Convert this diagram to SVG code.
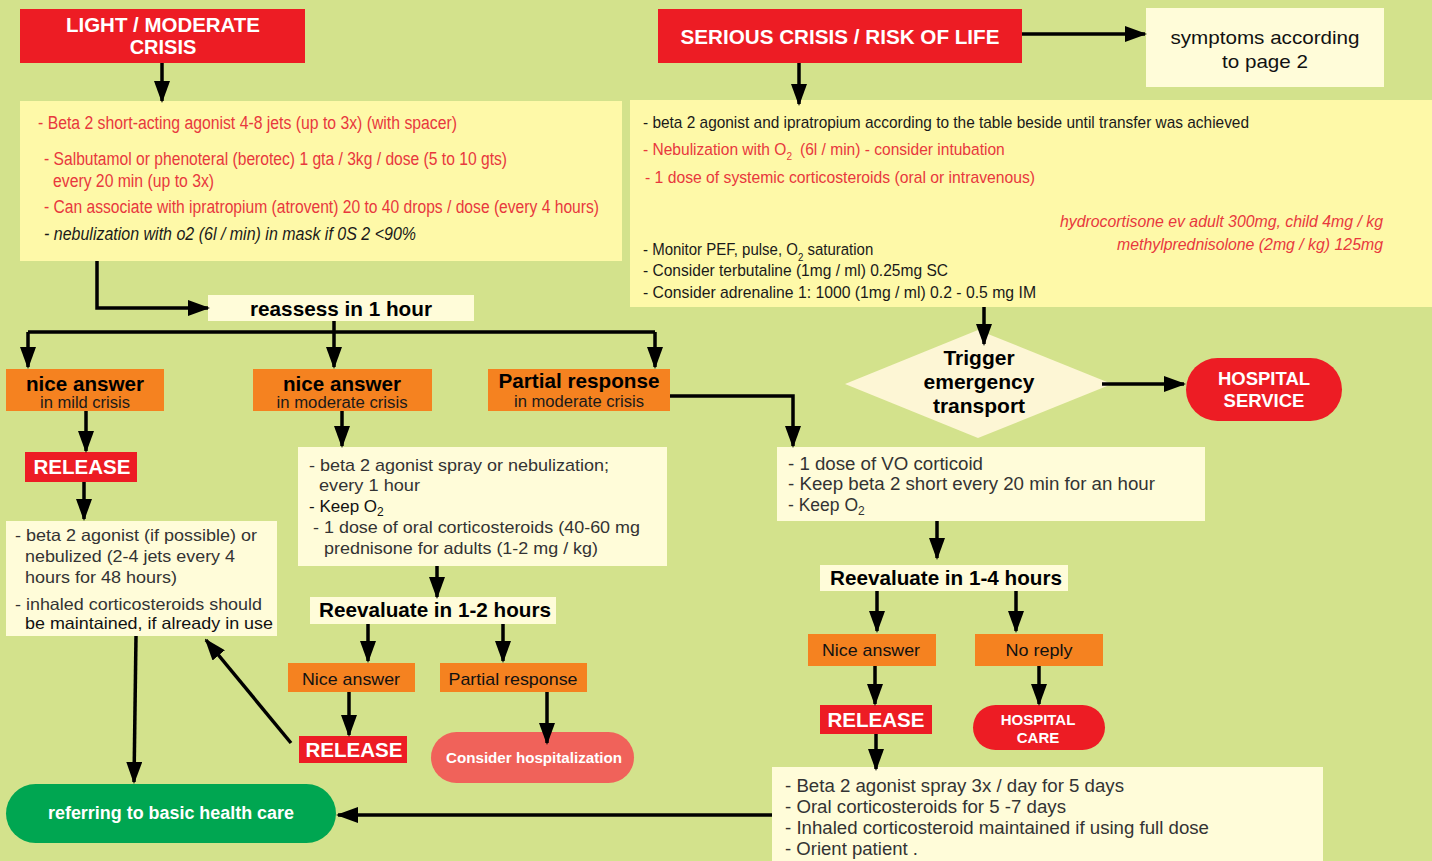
<svg xmlns="http://www.w3.org/2000/svg" width="1432" height="861" viewBox="0 0 1432 861">
<defs>
<marker id="ah" markerUnits="userSpaceOnUse" markerWidth="22" markerHeight="16" refX="20" refY="8" orient="auto">
<path d="M0,0 L22,8 L0,16 z" fill="#000"/>
</marker>
<style>
text{font-family:"Liberation Sans",Arial,sans-serif}
.bg{fill:#d3e28c}
.red{fill:#ed1c24}
.org{fill:#f58220}
.ylw{fill:#fef9a8}
.crm{fill:#fffcd9}
.wb{fill:#fff;font-weight:bold}
.bk{fill:#000;font-weight:bold}
.tx{fill:#333}
.rt{fill:#e8383d}
.dk{fill:#1a1a1a}
.c{text-anchor:middle}
.cn path{fill:none;stroke:#000;stroke-width:3.5}
.ar{marker-end:url(#ah)}
</style>
</defs>
<rect class="bg" x="0" y="0" width="1432" height="861"/>

<g id="light-crisis">
<rect class="red" x="20" y="9" width="285" height="54"/>
<text class="wb c" x="163" y="32" font-size="20" textLength="194" lengthAdjust="spacingAndGlyphs">LIGHT / MODERATE</text>
<text class="wb c" x="163" y="54" font-size="20">CRISIS</text>
</g>

<g id="light-treatment">
<rect class="ylw" x="20" y="101" width="602" height="160"/>
<text class="rt" x="38" y="129" font-size="18" textLength="419" lengthAdjust="spacingAndGlyphs">- Beta 2 short-acting agonist 4-8 jets (up to 3x) (with spacer)</text>
<text class="rt" x="44" y="165" font-size="18" textLength="463" lengthAdjust="spacingAndGlyphs">- Salbutamol or phenoteral (berotec) 1 gta / 3kg / dose (5 to 10 gts)</text>
<text class="rt" x="53" y="187" font-size="18" textLength="161" lengthAdjust="spacingAndGlyphs">every 20 min (up to 3x)</text>
<text class="rt" x="44" y="213" font-size="18" textLength="555" lengthAdjust="spacingAndGlyphs">- Can associate with ipratropium (atrovent) 20 to 40 drops / dose (every 4 hours)</text>
<text class="dk" x="44" y="240" font-size="18" font-style="italic" textLength="372" lengthAdjust="spacingAndGlyphs">- nebulization with o2 (6l / min) in mask if 0S 2 &lt;90%</text>
</g>

<g id="reassess">
<rect class="crm" x="208" y="295" width="266" height="26"/>
<text class="bk c" x="341" y="316" font-size="20.5" textLength="182" lengthAdjust="spacingAndGlyphs">reassess in 1 hour</text>
</g>

<g id="nice-mild">
<rect class="org" x="6" y="369" width="158" height="42"/>
<text class="bk c" x="85" y="391" font-size="20.5" textLength="118" lengthAdjust="spacingAndGlyphs">nice answer</text>
<text class="c" x="85" y="408" font-size="16" fill="#1a1a1a" textLength="90" lengthAdjust="spacingAndGlyphs">in mild crisis</text>
</g>

<g id="nice-moderate">
<rect class="org" x="253" y="369" width="179" height="42"/>
<text class="bk c" x="342" y="391" font-size="20.5" textLength="118" lengthAdjust="spacingAndGlyphs">nice answer</text>
<text class="c" x="342" y="408" font-size="16" fill="#1a1a1a" textLength="131" lengthAdjust="spacingAndGlyphs">in moderate crisis</text>
</g>

<g id="partial-moderate">
<rect class="org" x="488" y="369" width="182" height="42"/>
<text class="bk c" x="579" y="388" font-size="20.5" textLength="161" lengthAdjust="spacingAndGlyphs">Partial response</text>
<text class="c" x="579" y="407" font-size="16" fill="#1a1a1a" textLength="130" lengthAdjust="spacingAndGlyphs">in moderate crisis</text>
</g>

<g id="release-1">
<rect class="red" x="25" y="452" width="112" height="30"/>
<text class="wb c" x="82" y="474" font-size="20.5" textLength="97" lengthAdjust="spacingAndGlyphs">RELEASE</text>
</g>

<g id="mild-advice">
<rect class="crm" x="6" y="521" width="271" height="115"/>
<text class="tx" x="15" y="541" font-size="16.5" textLength="242" lengthAdjust="spacingAndGlyphs">- beta 2 agonist (if possible) or</text>
<text class="tx" x="25" y="562" font-size="16.5" textLength="210" lengthAdjust="spacingAndGlyphs">nebulized (2-4 jets every 4</text>
<text class="tx" x="25" y="583" font-size="16.5" textLength="152" lengthAdjust="spacingAndGlyphs">hours for 48 hours)</text>
<text class="tx" x="15" y="610" font-size="16.5" textLength="247" lengthAdjust="spacingAndGlyphs">- inhaled corticosteroids should</text>
<text x="25" y="629" font-size="16.5" fill="#111" textLength="248" lengthAdjust="spacingAndGlyphs">be maintained, if already in use</text>
</g>

<g id="moderate-treatment">
<rect class="crm" x="298" y="447" width="369" height="119"/>
<text class="tx" x="309" y="471" font-size="17" textLength="300" lengthAdjust="spacingAndGlyphs">- beta 2 agonist spray or nebulization;</text>
<text class="tx" x="319" y="491" font-size="17" textLength="101" lengthAdjust="spacingAndGlyphs">every 1 hour</text>
<text x="309" y="512" font-size="17" fill="#111">- Keep O<tspan font-size="12" dy="4">2</tspan></text>
<text class="tx" x="313" y="533" font-size="17" textLength="327" lengthAdjust="spacingAndGlyphs">- 1 dose of oral corticosteroids (40-60 mg</text>
<text class="tx" x="324" y="554" font-size="17" textLength="274" lengthAdjust="spacingAndGlyphs">prednisone for adults (1-2 mg / kg)</text>
</g>

<g id="reevaluate-12">
<rect class="crm" x="310" y="597" width="246" height="27"/>
<text class="bk c" x="435" y="617" font-size="20.5" textLength="232" lengthAdjust="spacingAndGlyphs">Reevaluate in 1-2 hours</text>
</g>

<g id="nice-answer-2">
<rect class="org" x="288" y="663" width="127" height="29"/>
<text class="c" x="351" y="685" font-size="17" fill="#111" textLength="98" lengthAdjust="spacingAndGlyphs">Nice answer</text>
</g>

<g id="partial-2">
<rect class="org" x="440" y="663" width="147" height="29"/>
<text class="c" x="513" y="685" font-size="17" fill="#111" textLength="129" lengthAdjust="spacingAndGlyphs">Partial response</text>
</g>

<g id="release-2">
<rect class="red" x="299" y="736" width="108" height="27"/>
<text class="wb c" x="354" y="757" font-size="20.5" textLength="97" lengthAdjust="spacingAndGlyphs">RELEASE</text>
</g>

<g id="consider-hospitalization">
<rect x="431" y="732" width="203" height="51" rx="25.5" fill="#f0625a"/>
<text class="wb c" x="534" y="763" font-size="15" textLength="176" lengthAdjust="spacingAndGlyphs">Consider hospitalization</text>
</g>

<g id="basic-health-care">
<rect x="6" y="784" width="330" height="59" rx="29.5" fill="#00a651"/>
<text class="wb c" x="171" y="819" font-size="18" textLength="246" lengthAdjust="spacingAndGlyphs">referring to basic health care</text>
</g>

<g id="serious-crisis">
<rect class="red" x="658" y="9" width="364" height="54"/>
<text class="wb c" x="840" y="44" font-size="20" textLength="319" lengthAdjust="spacingAndGlyphs">SERIOUS CRISIS / RISK OF LIFE</text>
</g>

<g id="symptoms">
<rect class="crm" x="1146" y="8" width="238" height="79"/>
<text class="c" x="1265" y="44" font-size="19" fill="#111" textLength="189" lengthAdjust="spacingAndGlyphs">symptoms according</text>
<text class="c" x="1265" y="68" font-size="19" fill="#111" textLength="86" lengthAdjust="spacingAndGlyphs">to page 2</text>
</g>

<g id="serious-treatment">
<rect class="ylw" x="630" y="100" width="802" height="207"/>
<text class="dk" x="643" y="128" font-size="17" textLength="606" lengthAdjust="spacingAndGlyphs">- beta 2 agonist and ipratropium according to the table beside until transfer was achieved</text>
<text class="rt" transform="translate(643,155) scale(0.915,1)" x="0" y="0" font-size="17">- Nebulization with O<tspan font-size="11" dy="5">2</tspan><tspan dy="-5" dx="4"> (6l / min) - consider intubation</tspan></text>
<text class="rt" x="645" y="183" font-size="17" textLength="390" lengthAdjust="spacingAndGlyphs">- 1 dose of systemic corticosteroids (oral or intravenous)</text>
<text class="rt" x="1383" y="227" font-size="17" font-style="italic" text-anchor="end" textLength="323" lengthAdjust="spacingAndGlyphs">hydrocortisone ev adult 300mg, child 4mg / kg</text>
<text class="rt" x="1383" y="250" font-size="17" font-style="italic" text-anchor="end" textLength="266" lengthAdjust="spacingAndGlyphs">methylprednisolone (2mg / kg) 125mg</text>
<text class="dk" transform="translate(643,255) scale(0.882,1)" x="0" y="0" font-size="17">- Monitor PEF, pulse, O<tspan font-size="11" dy="6">2</tspan><tspan dy="-6"> saturation</tspan></text>
<text class="dk" x="643" y="276" font-size="17" textLength="305" lengthAdjust="spacingAndGlyphs">- Consider terbutaline (1mg / ml) 0.25mg SC</text>
<text class="dk" x="643" y="298" font-size="17" textLength="393" lengthAdjust="spacingAndGlyphs">- Consider adrenaline 1: 1000 (1mg / ml) 0.2 - 0.5 mg IM</text>
</g>

<g id="trigger-transport">
<polygon points="978,330 1112,384 978,438 845,384" fill="#fdf6d5"/>
<text class="bk c" x="979" y="365" font-size="21">Trigger</text>
<text class="bk c" x="979" y="389" font-size="21">emergency</text>
<text class="bk c" x="979" y="413" font-size="21">transport</text>
</g>

<g id="hospital-service">
<rect class="red" x="1186" y="358" width="156" height="63" rx="31.5"/>
<text class="wb c" x="1264" y="385" font-size="18.5">HOSPITAL</text>
<text class="wb c" x="1264" y="407" font-size="18.5">SERVICE</text>
</g>

<g id="partial-treatment">
<rect class="crm" x="777" y="447" width="428" height="74"/>
<text class="tx" x="788" y="470" font-size="17.5" textLength="195" lengthAdjust="spacingAndGlyphs">- 1 dose of VO corticoid</text>
<text class="tx" x="788" y="490" font-size="17.5" textLength="367" lengthAdjust="spacingAndGlyphs">- Keep beta 2 short every 20 min for an hour</text>
<text class="tx" x="788" y="511" font-size="17.5">- Keep O<tspan font-size="12" dy="4">2</tspan></text>
</g>

<g id="reevaluate-14">
<rect class="crm" x="820" y="565" width="248" height="26"/>
<text class="bk c" x="946" y="585" font-size="20.5" textLength="232" lengthAdjust="spacingAndGlyphs">Reevaluate in 1-4 hours</text>
</g>

<g id="nice-answer-3">
<rect class="org" x="808" y="634" width="128" height="32"/>
<text class="c" x="871" y="656" font-size="17" fill="#111" textLength="98" lengthAdjust="spacingAndGlyphs">Nice answer</text>
</g>

<g id="no-reply">
<rect class="org" x="975" y="634" width="128" height="32"/>
<text class="c" x="1039" y="656" font-size="17" fill="#111" textLength="67" lengthAdjust="spacingAndGlyphs">No reply</text>
</g>

<g id="release-3">
<rect class="red" x="820" y="705" width="112" height="29"/>
<text class="wb c" x="876" y="727" font-size="20.5" textLength="97" lengthAdjust="spacingAndGlyphs">RELEASE</text>
</g>

<g id="hospital-care">
<rect class="red" x="973" y="705" width="132" height="45" rx="22.5"/>
<text class="wb c" x="1038" y="725" font-size="15">HOSPITAL</text>
<text class="wb c" x="1038" y="743" font-size="15">CARE</text>
</g>

<g id="discharge-advice">
<rect class="crm" x="772" y="767" width="551" height="94"/>
<text class="tx" x="785" y="792" font-size="17.5" textLength="339" lengthAdjust="spacingAndGlyphs">- Beta 2 agonist spray 3x / day for 5 days</text>
<text class="tx" x="785" y="813" font-size="17.5" textLength="281" lengthAdjust="spacingAndGlyphs">- Oral corticosteroids for 5 -7 days</text>
<text class="tx" x="785" y="834" font-size="17.5" textLength="424" lengthAdjust="spacingAndGlyphs">- Inhaled corticosteroid maintained if using full dose</text>
<text class="tx" x="785" y="855" font-size="17.5" textLength="133" lengthAdjust="spacingAndGlyphs">- Orient patient .</text>
</g>

<g id="connectors" class="cn">
<path class="ar" d="M162,63 V101"/>
<path class="ar" d="M97,261 V308 H208"/>
<path d="M334,321 V332 M28,332 H655"/>
<path class="ar" d="M28,332 V367"/>
<path class="ar" d="M334,332 V367"/>
<path class="ar" d="M655,332 V367"/>
<path class="ar" d="M670,396 H793 V446"/>
<path class="ar" d="M86,411 V451"/>
<path class="ar" d="M84,482 V519"/>
<path class="ar" d="M342,411 V446"/>
<path class="ar" d="M437,566 V597"/>
<path class="ar" d="M368,624 V661"/>
<path class="ar" d="M503,624 V661"/>
<path class="ar" d="M349,692 V735"/>
<path class="ar" d="M547,692 V743"/>
<path class="ar" d="M136,636 L134,782"/>
<path class="ar" d="M291,743 L206,640"/>
<path class="ar" d="M1022,34 H1145"/>
<path class="ar" d="M799,63 V104"/>
<path class="ar" d="M984,307 V344"/>
<path class="ar" d="M1102,384 H1184"/>
<path class="ar" d="M937,521 V558"/>
<path class="ar" d="M877,591 V631"/>
<path class="ar" d="M1016,591 V631"/>
<path class="ar" d="M875,666 V704"/>
<path class="ar" d="M1039,666 V704"/>
<path class="ar" d="M876,734 V769"/>
<path class="ar" d="M772,815 H338"/>
</g>
</svg>
